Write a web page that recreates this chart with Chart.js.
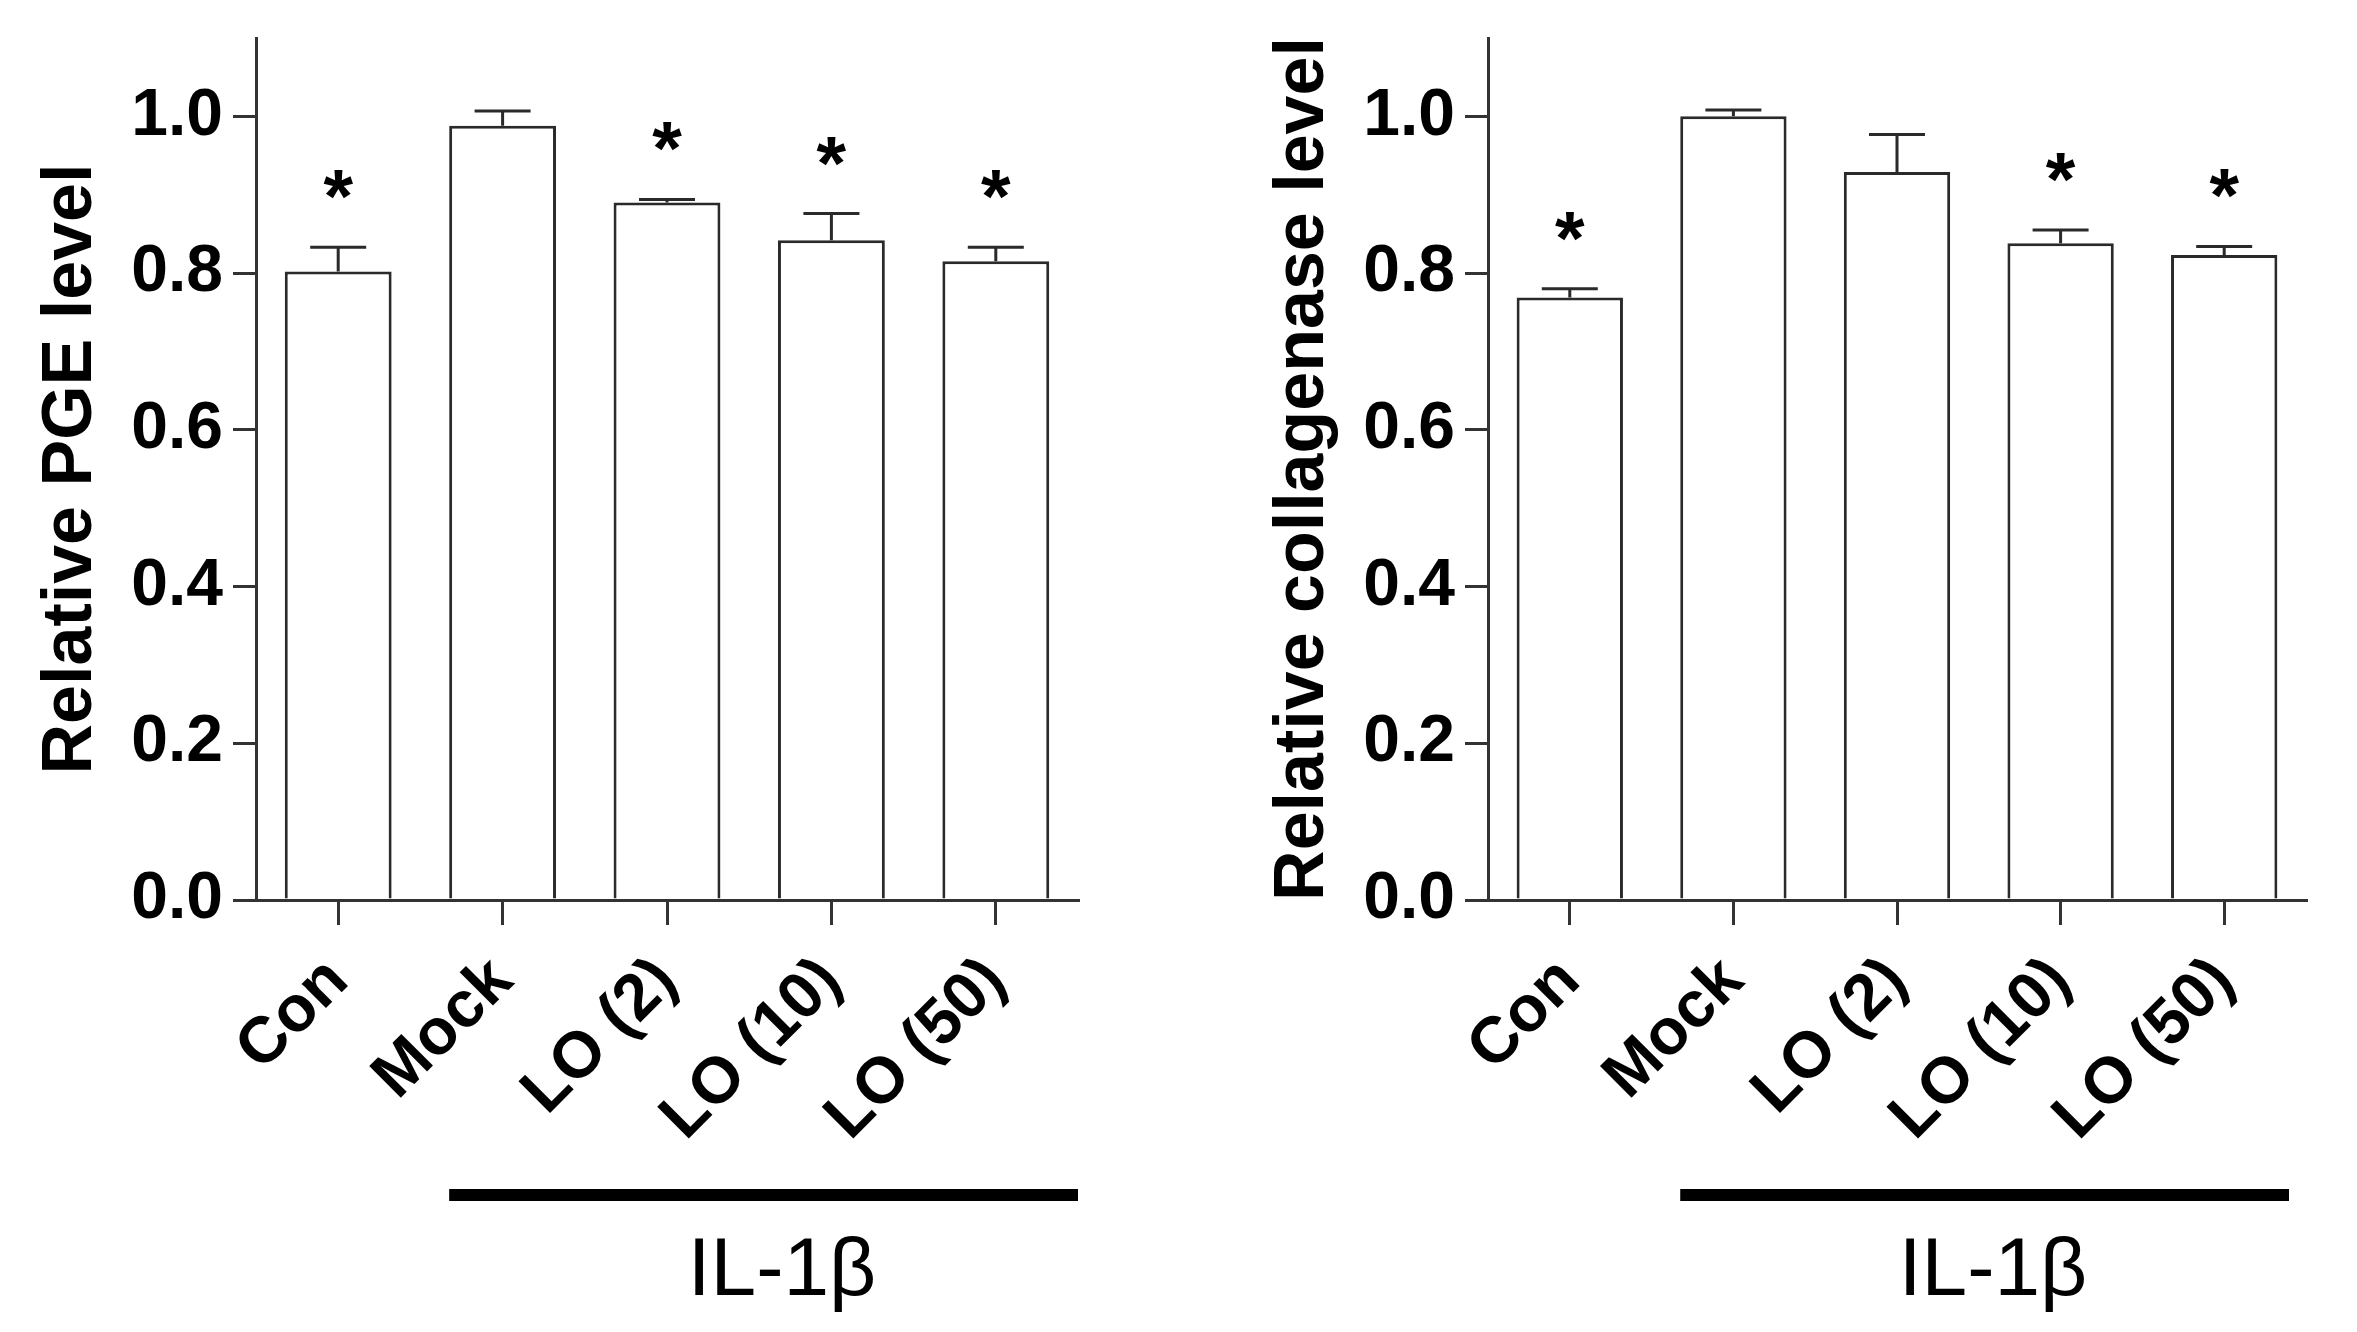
<!DOCTYPE html>
<html>
<head>
<meta charset="utf-8">
<script src="https://cdn.jsdelivr.net/npm/chart.js@4.4.1/dist/chart.umd.min.js"></script>
<style>
  body { margin: 0; background: #fff; width: 2357px; height: 1332px; position: relative; overflow: hidden; }
  canvas { position: absolute; top: 0; }
</style>
</head>
<body>
<canvas id="pge" width="1180" height="1332" style="left:0px"></canvas>
<canvas id="coll" width="1125" height="1332" style="left:1232px"></canvas>
<script>
// groups on the x axis
const groups = ['Con', 'Mock', 'LO (2)', 'LO (10)', 'LO (50)'];
const yTicks = [0, 0.2, 0.4, 0.6, 0.8, 1.0];

// left panel: relative PGE level
const pgeMean = [0.802, 0.988, 0.890, 0.842, 0.815];
const pgeSem  = [0.031, 0.019, 0.004, 0.034, 0.018];
const pgeSig  = [true, false, true, true, true];

// right panel: relative collagenase level
const collMean = [0.769, 1.000, 0.929, 0.838, 0.823];
const collSem  = [0.011, 0.008, 0.048, 0.017, 0.011];
const collSig  = [true, false, false, true, true];

const treatmentLabel = 'IL-1\u03b2';

Chart.defaults.font.family = "'Liberation Sans', Arial, sans-serif";
Chart.defaults.color = '#000';

// error whiskers (upper only), asterisks and the IL-1b bracket
const extras = {
  id: 'extras',
  afterDatasetsDraw(chart, args, opts) {
    const ctx = chart.ctx;
    const y = chart.scales.y;
    const meta = chart.getDatasetMeta(0);
    const means = chart.data.datasets[0].data;
    ctx.save();
    ctx.strokeStyle = '#2a2a2a';
    ctx.lineWidth = 3;
    meta.data.forEach((bar, i) => {
      const top = y.getPixelForValue(means[i] + opts.sem[i]);
      ctx.beginPath();
      ctx.moveTo(bar.x, bar.y);
      ctx.lineTo(bar.x, top);
      ctx.moveTo(bar.x - 28, top);
      ctx.lineTo(bar.x + 28, top);
      ctx.stroke();
      if (opts.sig[i]) {
        ctx.fillStyle = '#000';
        ctx.font = "bold 76px 'Liberation Sans', Arial, sans-serif";
        ctx.textAlign = 'center';
        ctx.textBaseline = 'alphabetic';
        ctx.fillText('*', bar.x, top - 67 + 42);
      }
    });
    // bracket under the IL-1b treated groups
    const mock = meta.data[1];
    const x0 = mock.x - mock.width / 2;
    const x1 = chart.chartArea.right - opts.barInset;
    ctx.fillStyle = '#000';
    ctx.fillRect(x0, 1189, x1 - x0, 12);
    ctx.font = "82px 'Liberation Sans', Arial, sans-serif";
    ctx.textAlign = 'center';
    ctx.textBaseline = 'alphabetic';
    ctx.fillText(treatmentLabel, chart.chartArea.left + opts.labelShift, 1295);
    ctx.restore();
  }
};

function makeChart(id, title, means, sem, sig, padRight, barInset, labelShift) {
  return new Chart(document.getElementById(id), {
    type: 'bar',
    data: {
      labels: groups,
      datasets: [{
        data: means,
        backgroundColor: '#fff',
        borderColor: '#2a2a2a',
        borderWidth: 3,
        barPercentage: 0.65,
        categoryPercentage: 1
      }]
    },
    options: {
      responsive: false,
      animation: false,
      layout: { padding: { top: 38, right: padRight, left: 0, bottom: 0 } },
      plugins: {
        legend: { display: false },
        tooltip: { enabled: false },
        extras: { sem: sem, sig: sig, barInset: barInset, labelShift: labelShift }
      },
      scales: {
        x: {
          offset: true,
          grid: { drawOnChartArea: false, offset: false, tickLength: 25, lineWidth: 3, color: '#333' },
          border: { color: '#333', width: 3 },
          ticks: {
            autoSkip: false,
            maxRotation: 45,
            minRotation: 45,
            padding: 18,
            color: '#000',
            font: { size: 65, weight: 'bold' }
          },
          afterFit(scale) {
            scale.height = 432;
            scale.paddingLeft = 0;
            scale.paddingRight = 0;
          }
        },
        y: {
          min: 0,
          max: 1.1,
          afterBuildTicks(scale) {
            scale.ticks = yTicks.map(v => ({ value: v }));
          },
          grid: { drawOnChartArea: false, tickLength: 23, lineWidth: 3, color: '#333' },
          border: { color: '#333', width: 3 },
          ticks: {
            padding: 10,
            color: '#000',
            font: { size: 66, weight: 'bold' },
            callback: v => Number(v).toFixed(1)
          },
          title: {
            display: true,
            text: title,
            color: '#000',
            font: { size: 70, weight: 'bold' },
            padding: { top: 30, bottom: 0 }
          },
          afterFit(scale) {
            scale.width = 256;
            scale.paddingTop = 0;
            scale.paddingBottom = 0;
          }
        }
      }
    },
    plugins: [extras]
  });
}

makeChart('pge', 'Relative PGE level', pgeMean, pgeSem, pgeSig, 102, 0, 526);
makeChart('coll', 'Relative collagenase level', collMean, collSem, collSig, 51, 17, 505);
</script>
</body>
</html>
